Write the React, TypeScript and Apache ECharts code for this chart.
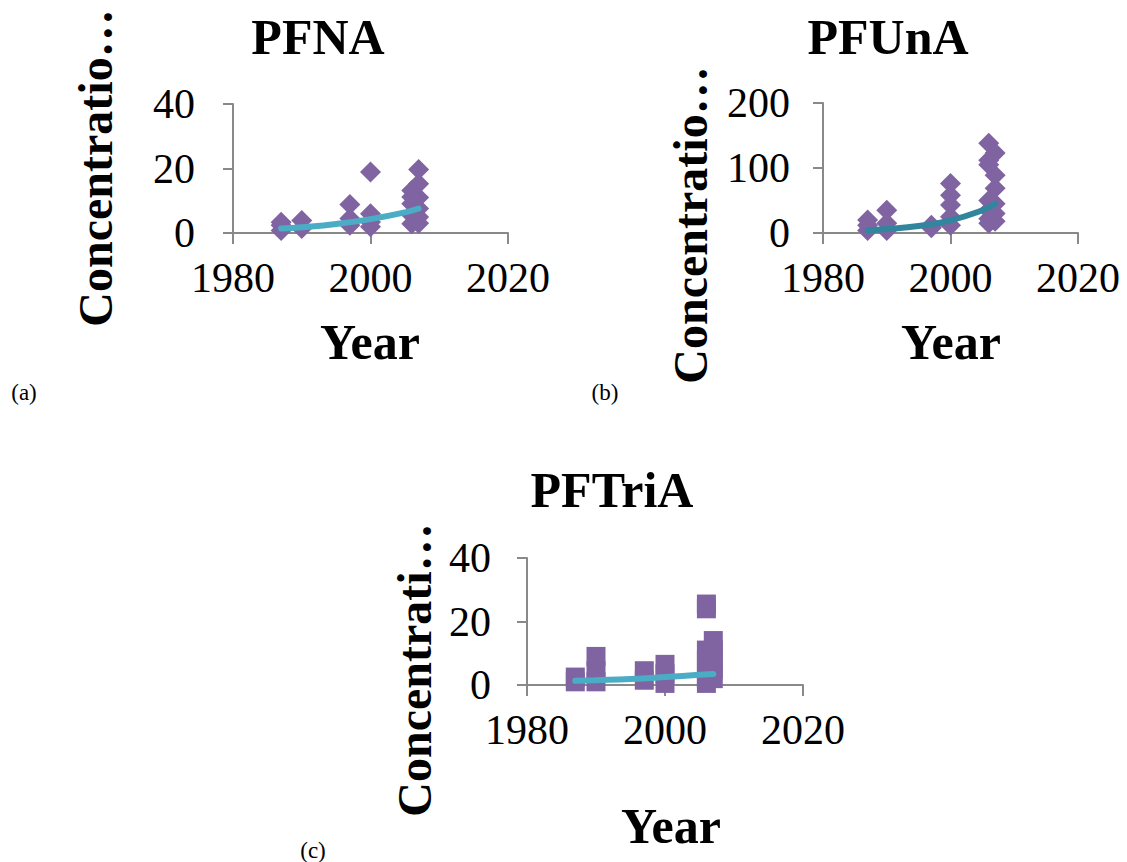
import React, { useEffect, useRef } from "react";
import * as echarts from "echarts";

const FONT = '"Liberation Serif", "Times New Roman", Times, serif';

// Panel (a) PFNA
const pfnaYears = [1987, 1987, 1987, 1990, 1990, 1997, 1997, 1997, 2000, 2000, 2000, 2000, 2006, 2006, 2006, 2006, 2006, 2007, 2007, 2007, 2007, 2007, 2007];
const pfnaValues = [3.3, 2.4, 0.8, 3.9, 1.4, 8.8, 4.5, 2.4, 18.9, 6.0, 3.4, 1.9, 13.2, 11.2, 9.1, 5.5, 2.9, 19.7, 15.3, 11.0, 7.6, 5.0, 3.0];
const pfnaTrendYears = [1987, 1990, 1995, 2000, 2005, 2007];
const pfnaTrendValues = [1.4, 1.8, 2.8, 4.3, 6.4, 7.6];

// Panel (b) PFUnA
const pfunaYears = [1987, 1987, 1987, 1990, 1990, 1990, 1997, 1997, 2000, 2000, 2000, 2000, 2000, 2006, 2006, 2006, 2006, 2006, 2006, 2006, 2007, 2007, 2007, 2007, 2007, 2007];
const pfunaValues = [20, 12, 4, 35, 15, 4, 12, 8, 76, 58, 43, 25, 12, 138, 112, 105, 50, 35, 22, 15, 123, 89, 69, 45, 30, 18];
const pfunaTrendYears = [1987, 1990, 1995, 2000, 2005, 2007];
const pfunaTrendValues = [4.2, 6, 10.8, 19.5, 35, 45];

// Panel (c) PFTriA
const pftriaYears = [1987, 1987, 1990, 1990, 1990, 1997, 1997, 2000, 2000, 2000, 2006, 2006, 2006, 2006, 2006, 2006, 2006, 2007, 2007, 2007, 2007, 2007];
const pftriaValues = [2.5, 1, 9, 4.5, 1, 4.5, 1.5, 6.5, 3.5, 0.5, 25.5, 24, 11, 8, 5, 2, 0.5, 14, 11, 8, 5, 2];
const pftriaTrendYears = [1987, 1990, 1995, 2000, 2005, 2007];
const pftriaTrendValues = [1.3, 1.5, 1.9, 2.5, 3.2, 3.5];

const titles = ["PFNA", "PFUnA", "PFTriA"];
const yNames = ["Concentratio…", "Concentratio…", "Concentrati…"];
const xName = "Year";
const panelLabels = ["(a)", "(b)", "(c)"];
const yMax = [40, 200, 40];
const yInterval = [20, 100, 20];

const pairs = (xs: number[], ys: number[]) => xs.map((x, i) => [x, ys[i]]);

const AXIS_COLOR = "#898989";

export default function App() {
  const ref = useRef<HTMLDivElement>(null);
  useEffect(() => {
    if (!ref.current) return;
    const chart = echarts.init(ref.current, undefined, { renderer: "svg" });
    const grids = [
      { left: 233, top: 104, width: 275, height: 129 },
      { left: 823, top: 103, width: 255, height: 130 },
      { left: 527, top: 558, width: 276, height: 127 },
    ];
    const labelMargins = [38, 33, 36];
    const xAxis = grids.map((_, i) => ({
      type: "value",
      gridIndex: i,
      min: 1980,
      max: 2020,
      interval: 20,
      splitLine: { show: false },
      axisLine: { show: true, onZero: false, lineStyle: { color: AXIS_COLOR, width: 2 } },
      axisTick: { show: true, length: 11, lineStyle: { color: AXIS_COLOR, width: 2 } },
      axisLabel: {
        color: "#000",
        fontSize: 42,
        fontFamily: FONT,
        margin: 24,
        formatter: (v: number) => String(v),
      },
    }));
    const yAxis = grids.map((_, i) => ({
      type: "value",
      gridIndex: i,
      min: 0,
      max: yMax[i],
      interval: yInterval[i],
      splitLine: { show: false },
      axisLine: { show: true, onZero: false, lineStyle: { color: AXIS_COLOR, width: 2 } },
      axisTick: { show: true, length: 10, lineStyle: { color: AXIS_COLOR, width: 2 } },
      axisLabel: {
        color: "#000",
        fontSize: 42,
        fontFamily: FONT,
        margin: labelMargins[i],
        formatter: (v: number) => String(v),
      },
    }));
    const scatterData = [
      pairs(pfnaYears, pfnaValues),
      pairs(pfunaYears, pfunaValues),
      pairs(pftriaYears, pftriaValues),
    ];
    const trendData = [
      pairs(pfnaTrendYears, pfnaTrendValues),
      pairs(pfunaTrendYears, pfunaTrendValues),
      pairs(pftriaTrendYears, pftriaTrendValues),
    ];
    const symbols = ["diamond", "diamond", "rect"];
    const symbolSizes = [21, 21, 19];
    const trendColors = ["#4BACC6", "#31859C", "#4BACC6"];
    const series: any[] = [];
    for (let i = 0; i < 3; i++) {
      series.push({
        type: "scatter",
        xAxisIndex: i,
        yAxisIndex: i,
        data: scatterData[i],
        symbol: symbols[i],
        symbolSize: symbolSizes[i],
        itemStyle: { color: "#8064A2", opacity: 1 },
        z: 2,
      });
      series.push({
        type: "line",
        xAxisIndex: i,
        yAxisIndex: i,
        data: trendData[i],
        smooth: true,
        showSymbol: false,
        symbol: "none",
        lineStyle: { color: trendColors[i], width: 6, cap: "round" },
        z: 3,
      });
    }
    const titlePos = [
      [318, 37],
      [888, 37],
      [612, 490],
    ];
    const yNamePos = [
      [95, 168],
      [690, 225],
      [414, 670],
    ];
    const xNamePos = [
      [370, 342],
      [951, 342],
      [671, 826],
    ];
    const panelPos = [
      [24, 392],
      [605, 392],
      [313, 850],
    ];
    const graphic: any[] = [];
    for (let i = 0; i < 3; i++) {
      graphic.push({
        type: "text",
        x: titlePos[i][0],
        y: titlePos[i][1],
        style: { text: titles[i], fontSize: 50, fontWeight: "bold", fontFamily: FONT, fill: "#000", align: "center", verticalAlign: "middle" },
      });
      graphic.push({
        type: "text",
        x: yNamePos[i][0],
        y: yNamePos[i][1],
        rotation: Math.PI / 2,
        style: { text: yNames[i], fontSize: 48, fontWeight: "bold", fontFamily: FONT, fill: "#000", align: "center", verticalAlign: "middle" },
      });
      graphic.push({
        type: "text",
        x: xNamePos[i][0],
        y: xNamePos[i][1],
        style: { text: xName, fontSize: 50, fontWeight: "bold", fontFamily: FONT, fill: "#000", align: "center", verticalAlign: "middle" },
      });
      graphic.push({
        type: "text",
        x: panelPos[i][0],
        y: panelPos[i][1],
        style: { text: panelLabels[i], fontSize: 23, fontFamily: FONT, fill: "#000", align: "center", verticalAlign: "middle" },
      });
    }
    chart.setOption({
      animation: false,
      backgroundColor: "#fff",
      grid: grids,
      xAxis,
      yAxis,
      series,
      graphic,
    });
    return () => chart.dispose();
  }, []);
  return (
    <div
      ref={ref}
      style={{ position: "absolute", left: 0, top: 0, width: 1127, height: 862, background: "#fff" }}
    />
  );
}
